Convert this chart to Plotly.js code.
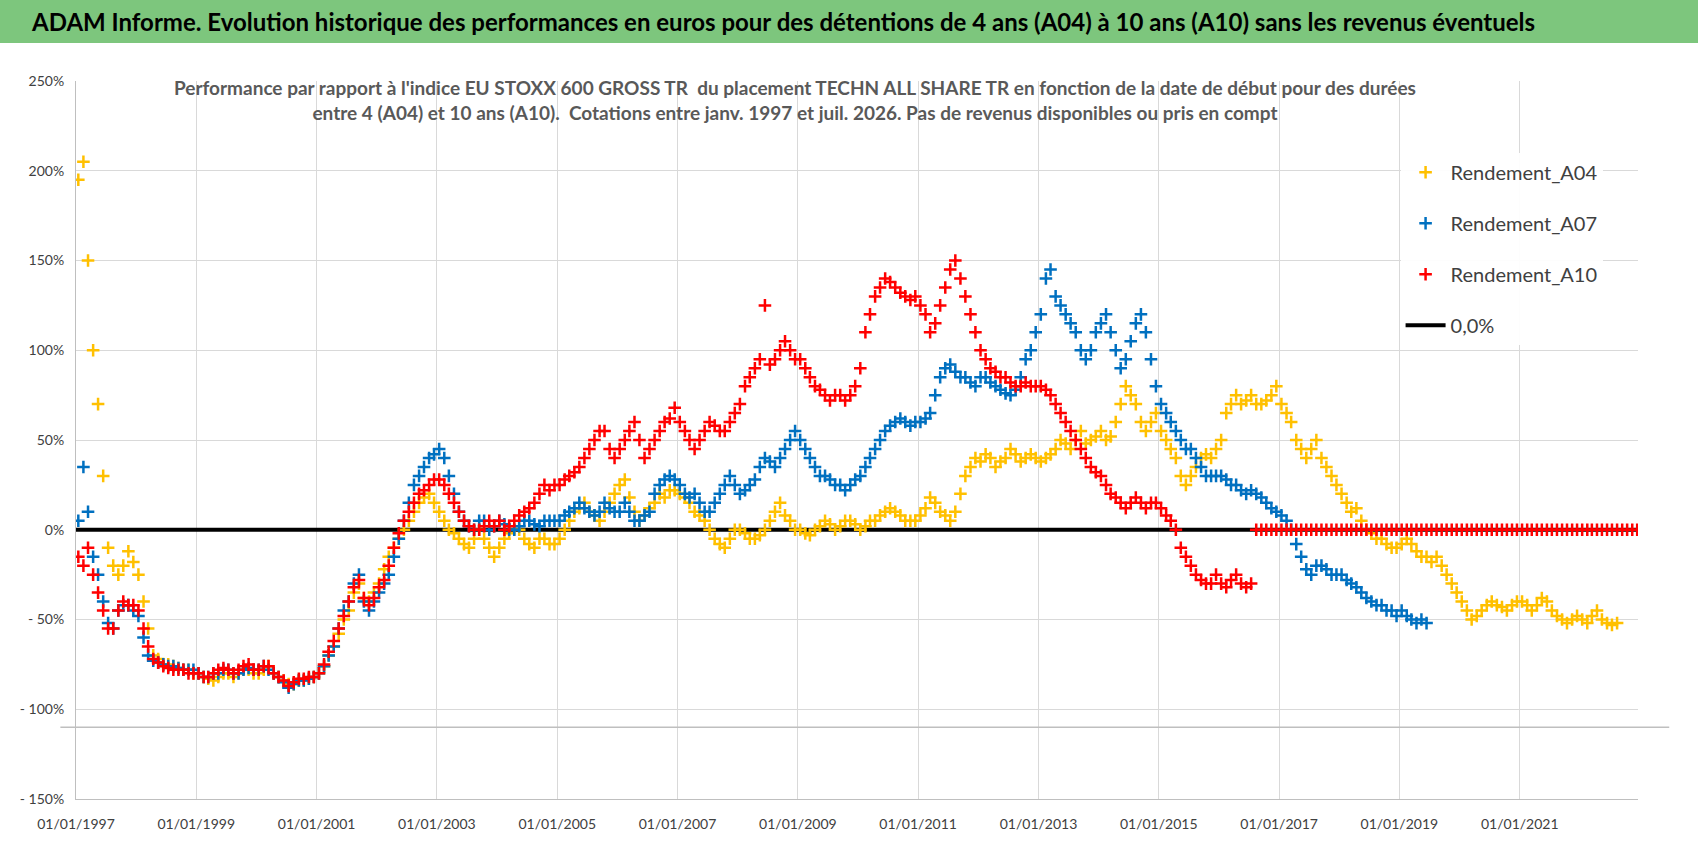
<!DOCTYPE html>
<html>
<head>
<meta charset="utf-8">
<script src="https://cdn.plot.ly/plotly-3.0.1.min.js"></script>
<style>html,body{margin:0;padding:0;background:#fff;}#chart{width:1698px;height:856px;}</style>
</head>
<body>
<div id="chart"></div>
<script>
// monthly values (%), starting Jan 1997
var rendA04 = [
  195,205,150,100,70,30,-10,-20,-25,-20,-12,-18,
  -25,-40,-55,-70,-72,-75,-75,-76,-77,-78,-78,-80,
  -80,-82,-83,-84,-82,-80,-80,-82,-80,-78,-78,-80,
  -80,-78,-76,-80,-82,-84,-86,-86,-84,-84,-83,-82,
  -80,-76,-70,-65,-58,-50,-45,-35,-30,-38,-40,-35,
  -30,-22,-15,-10,-5,0,5,10,15,18,20,15,
  10,5,0,-2,-5,-8,-10,-5,0,-5,-10,-15,
  -10,-5,-2,0,0,-5,-8,-10,-5,-5,-8,-8,
  -5,0,5,10,12,15,10,8,5,10,15,20,
  25,28,18,10,5,8,12,15,20,18,22,22,
  20,18,15,10,8,5,0,-5,-8,-10,-5,0,
  0,-2,-5,-5,-3,0,5,10,15,8,5,0,
  0,-2,-3,0,2,5,3,0,2,5,5,3,
  0,2,5,5,8,10,12,10,8,5,5,5,
  8,12,18,15,10,8,5,10,20,30,35,40,
  38,42,40,35,38,40,45,42,38,40,42,40,
  38,40,42,45,50,48,45,50,55,48,50,52,
  55,50,52,60,70,80,75,70,60,55,60,65,
  55,50,45,40,30,25,30,35,40,42,40,45,
  50,65,70,75,70,72,75,70,70,72,75,80,
  70,65,60,50,45,40,45,50,40,35,30,25,
  20,15,10,12,5,0,-2,-5,-5,-8,-10,-10,
  -8,-5,-8,-12,-15,-15,-18,-15,-20,-25,-30,-35,
  -40,-45,-50,-48,-45,-42,-40,-42,-43,-45,-42,-40,
  -40,-42,-45,-42,-38,-40,-45,-48,-50,-52,-50,-48,
  -50,-52,-48,-45,-50,-52,-53,-52
];
var rendA07 = [
  5,35,10,-15,-25,-40,-52,-55,-45,-42,-42,-45,
  -48,-60,-70,-73,-74,-75,-76,-76,-77,-78,-78,-78,
  -80,-82,-82,-80,-80,-78,-78,-80,-80,-78,-77,-78,
  -78,-76,-78,-80,-82,-85,-88,-86,-84,-84,-83,-82,
  -80,-76,-70,-65,-55,-45,-40,-30,-25,-40,-45,-40,
  -35,-30,-25,-15,-5,5,15,25,30,35,40,42,
  45,40,30,20,10,5,2,0,5,5,0,2,
  5,3,0,0,2,5,5,3,2,5,5,5,
  5,8,10,12,15,12,10,8,10,15,12,10,
  10,15,10,5,5,8,10,20,25,28,30,28,
  25,20,18,20,15,10,10,15,20,25,30,25,
  20,22,25,28,35,40,38,35,40,45,50,55,
  50,45,40,35,30,30,28,25,25,22,25,28,
  30,35,40,45,50,55,58,60,62,60,58,60,
  60,62,65,75,85,90,92,88,85,85,82,80,
  85,85,82,80,78,76,75,78,85,95,100,110,
  120,140,145,130,125,120,115,110,100,95,100,110,
  115,120,110,100,90,95,105,115,120,110,95,80,
  70,65,60,55,50,45,45,40,35,30,30,30,
  30,28,25,25,22,20,22,20,18,15,12,10,
  8,5,0,-8,-15,-22,-25,-20,-20,-22,-25,-25,
  -25,-28,-30,-32,-35,-38,-40,-42,-42,-45,-45,-48,
  -45,-48,-50,-52,-50,-52
];
var rendA10 = [
  -15,-20,-10,-25,-35,-45,-55,-55,-45,-40,-42,-42,
  -45,-55,-65,-72,-74,-76,-77,-78,-78,-78,-80,-80,
  -80,-82,-82,-80,-78,-77,-78,-80,-78,-76,-75,-78,
  -78,-76,-76,-80,-82,-84,-87,-85,-83,-83,-82,-82,
  -80,-75,-68,-62,-55,-48,-40,-32,-28,-38,-42,-38,
  -32,-28,-20,-10,-2,5,10,15,20,22,25,28,
  28,25,20,15,10,5,2,0,0,2,5,2,
  5,0,2,5,8,10,12,15,20,25,22,25,
  25,28,30,32,35,40,45,50,55,55,45,40,
  45,50,55,60,50,40,45,50,55,60,62,68,
  60,55,50,45,50,55,60,58,55,55,60,65,
  70,80,85,90,95,125,92,95,100,105,100,95,
  95,90,85,80,78,75,72,75,75,72,75,80,
  90,110,120,130,135,140,138,135,132,130,128,130,
  125,120,110,115,125,135,145,150,140,130,120,110,
  100,95,90,88,85,85,82,80,80,82,80,80,
  80,78,75,70,65,60,55,50,45,40,35,32,
  30,25,20,18,15,12,15,18,15,12,15,15,
  12,8,5,0,-10,-15,-20,-25,-28,-30,-30,-25,
  -30,-32,-28,-25,-30,-32,-30
];
// A10 zero-valued tail (no full 10-year period available), Aug 2016 - Dec 2022
var rendA10Tail = [
  0,0,0,0,0,
  0,0,0,0,0,0,0,0,0,0,0,0,
  0,0,0,0,0,0,0,0,0,0,0,0,
  0,0,0,0,0,0,0,0,0,0,0,0,
  0,0,0,0,0,0,0,0,0,0,0,0,
  0,0,0,0,0,0,0,0,0,0,0,0,
  0,0,0,0,0,0,0,0,0,0,0,0
];
var tickDates = ['1997-01-01','1999-01-01','2001-01-01','2003-01-01','2005-01-01','2007-01-01','2009-01-01','2011-01-01','2013-01-01','2015-01-01','2017-01-01','2019-01-01','2021-01-01'];
var tickLabels = ['01/01/1997','01/01/1999','01/01/2001','01/01/2003','01/01/2005','01/01/2007','01/01/2009','01/01/2011','01/01/2013','01/01/2015','01/01/2017','01/01/2019','01/01/2021'];
var yVals = [-150,-100,-50,0,50,100,150,200,250];
var yLabels = ['- 150%','- 100%','- 50%','0%','50%','100%','150%','200%','250%'];

function monthDates(startYear, startMonth, n) {
  var out = [];
  for (var i = 0; i < n; i++) {
    var m = startMonth - 1 + i;
    var y = startYear + Math.floor(m / 12);
    var mm = (m % 12) + 1;
    out.push(y + '-' + (mm < 10 ? '0' + mm : mm) + '-15');
  }
  return out;
}

var mk = function(c) { return {symbol: 'cross-thin-open', size: 9, color: c, line: {color: c, width: 2.5}}; };

// zero line first so the markers sit on top of it
var data = [
  {x: ['1997-01-01', '2022-12-20'], y: [0, 0], mode: 'lines', name: '0,0%', legendrank: 4, legendgroup: 'z',
   line: {color: '#000', width: 4}},
  {x: monthDates(1997, 1, rendA04.length), y: rendA04, mode: 'markers', name: 'Rendement_A04', legendrank: 1,
   legendgroup: 'a', marker: mk('#FFC000')},
  {x: monthDates(1997, 1, rendA07.length), y: rendA07, mode: 'markers', name: 'Rendement_A07', legendrank: 2,
   legendgroup: 'b', marker: mk('#0070C0')},
  {x: monthDates(1997, 1, rendA10.length).concat(monthDates(2016, 8, rendA10Tail.length)),
   y: rendA10.concat(rendA10Tail), mode: 'markers', name: 'Rendement_A10', legendrank: 3,
   legendgroup: 'c', marker: mk('#FF0000')}
];

var layout = {
  width: 1698, height: 856,
  margin: {l: 76, r: 60, t: 81, b: 57},
  paper_bgcolor: '#fff', plot_bgcolor: '#fff',
  font: {family: 'Lato, "Open Sans", sans-serif', color: '#404040'},
  showlegend: true,
  legend: {x: 0.848, y: 0.9, xanchor: 'left', yanchor: 'top', bgcolor: 'rgba(255,255,255,0.95)',
           font: {size: 20, color: '#404040'}, traceorder: 'grouped', itemwidth: 40, tracegroupgap: 22},
  xaxis: {type: 'date', range: ['1997-01-01', '2022-12-20'], tickvals: tickDates, ticktext: tickLabels,
          showgrid: true, gridcolor: '#d9d9d9', zeroline: false, showline: true, linecolor: '#bfbfbf',
          tickfont: {size: 14, color: '#404040'}, ticks: '', ticklabelstandoff: 12},
  yaxis: {range: [-150, 250], tickvals: yVals, ticktext: yLabels, showgrid: true, gridcolor: '#d9d9d9',
          zeroline: false, showline: true, linecolor: '#bfbfbf', tickfont: {size: 14, color: '#404040'},
          ticklabelstandoff: 8},
  shapes: [
    {type: 'rect', xref: 'paper', yref: 'paper', x0: -0.06, x1: 1.04, y0: 1.0529, y1: 1.115,
     fillcolor: '#7DC67D', line: {width: 0}, layer: 'below'},
    {type: 'line', xref: 'paper', yref: 'y', x0: -0.01, x1: 1.02, y0: -110, y1: -110,
     line: {color: '#bfbfbf', width: 1.5}}
  ],
  annotations: [
    {xref: 'paper', yref: 'paper', x: -0.03, y: 1.083, xanchor: 'left', yanchor: 'middle', showarrow: false,
     text: '<b>ADAM Informe. Evolution historique des performances en euros pour des détentions de 4 ans (A04) à 10 ans (A10) sans les revenus éventuels</b>',
     font: {size: 24, color: '#000', family: 'Lato, sans-serif'}},
    {xref: 'paper', yref: 'paper', x: 0.46, y: 1.01, xanchor: 'center', yanchor: 'top', showarrow: false, align: 'center',
     text: "<b>Performance par rapport à l'indice EU STOXX 600 GROSS TR  du placement TECHN ALL SHARE TR en fonction de la date de début pour des durées<br>entre 4 (A04) et 10 ans (A10).  Cotations entre janv. 1997 et juil. 2026. Pas de revenus disponibles ou pris en compt</b>",
     font: {size: 19, color: '#595959', family: 'Lato, sans-serif'}}
  ]
};

Plotly.newPlot('chart', data, layout, {staticPlot: true});
</script>
</body>
</html>
